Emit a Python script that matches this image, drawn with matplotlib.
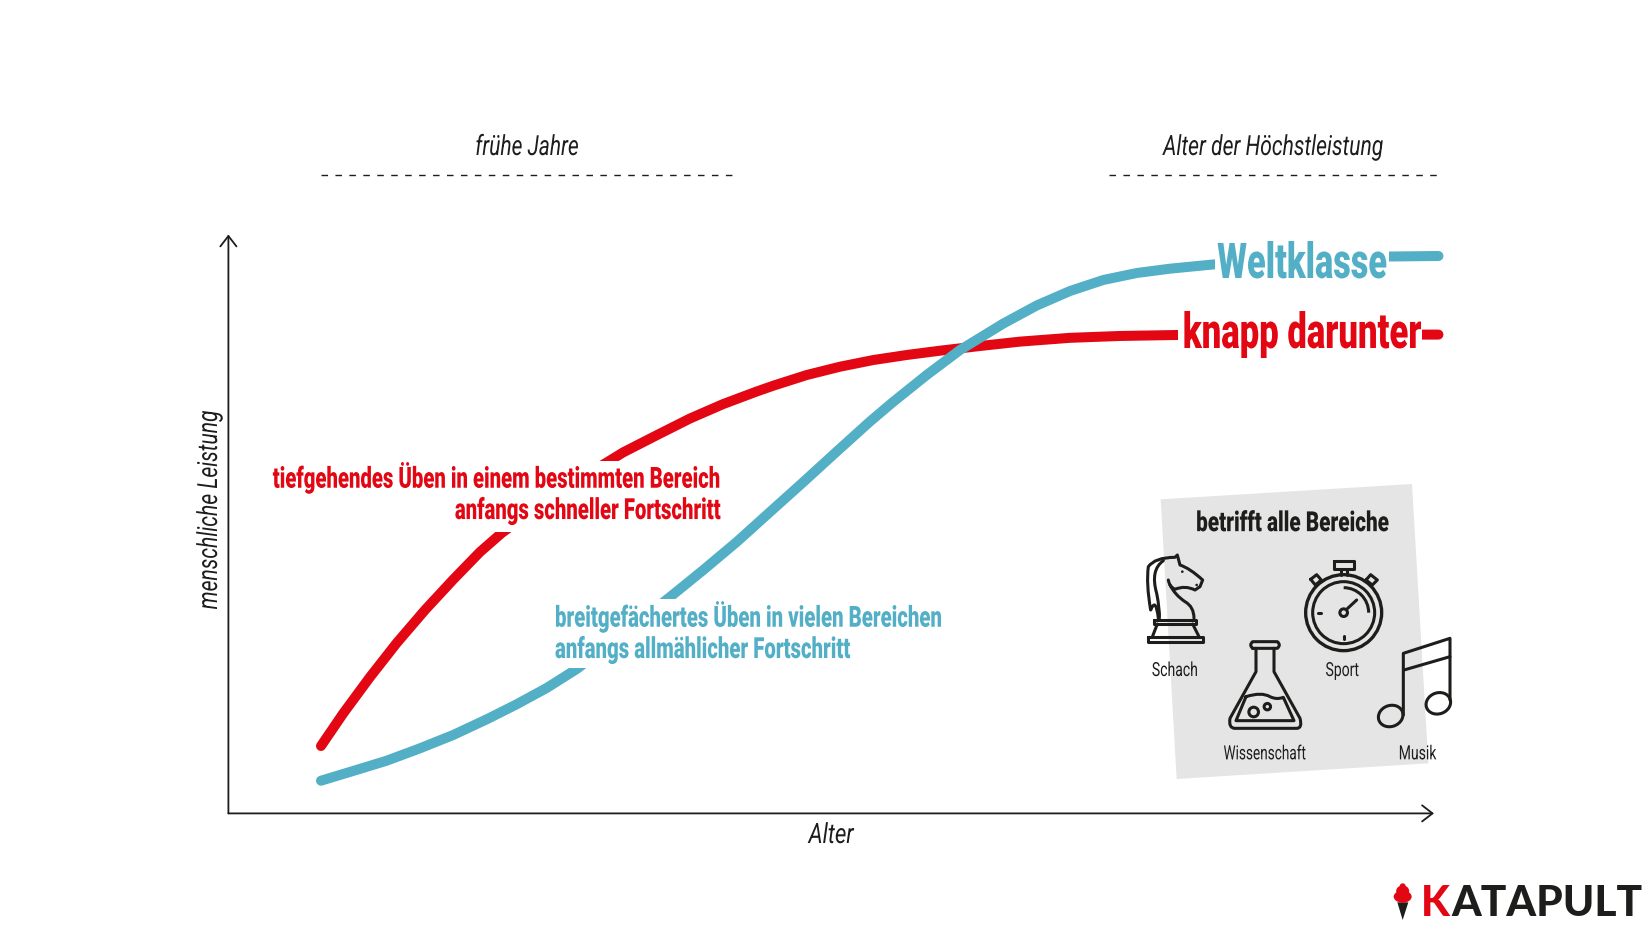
import matplotlib
matplotlib.use("Agg")
import matplotlib.pyplot as plt
from matplotlib.patches import Polygon, Circle, Ellipse, Arc, Rectangle, PathPatch
from matplotlib.patheffects import AbstractPathEffect
from matplotlib.path import Path
from matplotlib.text import Text
from matplotlib.transforms import Affine2D, Bbox

# curves (alter, leistung on a 0-100 scale)
red_age = [7.68, 9.53, 11.75, 13.96, 16.31, 18.65, 20.87, 22.67, 26.68, 31.38, 32.76, 35.53, 38.29, 41.05,
           43.82, 45.20, 47.97, 50.73, 53.49, 56.26, 59.03, 62.34, 65.66, 69.81, 73.96, 78.66, 88.9, 100.37]
red_perf = [11.69, 17.36, 23.66, 29.55, 35.28, 40.56, 45.34, 48.63, 54.87, 60.86, 62.63, 65.59, 68.49, 71.00,
            73.17, 74.18, 76.03, 77.47, 78.63, 79.50, 80.25, 81.06, 81.82, 82.48, 82.80, 82.97, 83.04, 83.04]
blue_age = [7.68, 10.33, 13.13, 15.89, 18.65, 21.43, 23.91, 26.40, 28.89, 32.73, 36.63, 39.39, 42.16, 44.92,
            47.69, 50.46, 53.22, 55.13, 57.92, 60.68, 62.59, 64.28, 67.05, 69.81, 72.57, 75.34, 78.10, 81.67,
            88.9, 96.34, 100.37]
blue_perf = [5.67, 7.35, 9.14, 11.29, 13.60, 16.32, 18.92, 21.75, 25.04, 31.11, 37.53, 42.21, 47.07, 52.27,
             57.47, 62.76, 67.97, 71.35, 76.03, 80.36, 82.80, 84.96, 88.09, 90.60, 92.51, 93.72, 94.47, 95.20,
             96.24, 96.58, 96.67]

phase_labels = ["frühe Jahre", "Alter der Höchstleistung"]
phase_spans = [(7.68, 41.8), (73.05, 100.5)]
area_labels = ["Schach", "Sport", "Wissenschaft", "Musik"]

RED = "#e30613"
BLUE = "#52afc6"
DARK = "#1d1d1b"
GREY = "#e5e5e5"

W, H = 1650, 930
fig = plt.figure(figsize=(W / 100, H / 100), dpi=100)

# chart axes, scale 0-100 both ways
left, right, bottom, top = 228.4, 1434.0, 813.4, 236.8
ax = fig.add_axes([left / W, 1 - bottom / H, (right - left) / W, (bottom - top) / H])
ax.set_xlim(0, 100)
ax.set_ylim(0, 100)
ax.axis("off")
ax.plot(red_age, red_perf, color=RED, lw=7.2, solid_capstyle="round", solid_joinstyle="round", clip_on=False)
ax.plot(blue_age, blue_perf, color=BLUE, lw=7.2, solid_capstyle="round", solid_joinstyle="round", clip_on=False)

arrow = dict(arrowstyle="->,head_length=0.75,head_width=0.58", color=DARK, lw=1.3, shrinkA=0, shrinkB=0)
ax.annotate("", xy=(100, 0), xytext=(0, 0), arrowprops=arrow, annotation_clip=False)
ax.annotate("", xy=(0, 100.4), xytext=(0, 0), arrowprops=arrow, annotation_clip=False)

for span in phase_spans:
    ax.plot(span, [110.8, 110.8], color=DARK, lw=1, dashes=(4.7, 5.34), clip_on=False)

# everything else sits on a pixel overlay
ov = fig.add_axes([0, 0, 1, 1], facecolor="none")
ov.set_xlim(0, W)
ov.set_ylim(H, 0)
ov.axis("off")


# no condensed font is installed, so squeeze real text along its baseline
class Squeeze(AbstractPathEffect):
    def __init__(self, text, sx):
        super().__init__()
        self.text = text
        self.sx = sx

    def draw_path(self, renderer, gc, tpath, affine, rgbFace=None):
        x0, y0 = self.text.get_transform().transform(self.text.get_position())
        sx, sy = (1, self.sx) if self.text.get_rotation() == 90 else (self.sx, 1)
        squeeze = Affine2D().translate(-x0, -y0).scale(sx, sy).translate(x0, y0)
        renderer.draw_path(gc, tpath, affine + squeeze, rgbFace)


class NarrowText(Text):
    def __init__(self, x, y, s, sx=0.7, **kw):
        super().__init__(x, y, s, **kw)
        self.sx = sx
        self.set_path_effects([Squeeze(self, sx)])

    def get_window_extent(self, renderer=None, dpi=None):
        bb = super().get_window_extent(renderer, dpi)
        x0, y0 = self.get_transform().transform(self.get_position())
        sx, sy = (1, self.sx) if self.get_rotation() == 90 else (self.sx, 1)
        return Bbox([[x0 + (bb.x0 - x0) * sx, y0 + (bb.y0 - y0) * sy],
                     [x0 + (bb.x1 - x0) * sx, y0 + (bb.y1 - y0) * sy]])


def txt(x, y, s, size, sx=0.7, color=DARK, weight="normal", style="normal", ha="center", **kw):
    t = NarrowText(x, y, s, sx=sx, fontsize=size, color=color, weight=weight, style=style,
                   ha=ha, va="center", family="Roboto", zorder=5, **kw)
    ov.add_artist(t)
    return t


# white gaps where the labels cut the curves
for x0, y0, x1, y1 in [(270, 461, 725, 532), (550, 599, 945, 668), (1215, 235, 1389, 290), (1178, 305, 1422, 362)]:
    ov.add_patch(Rectangle((x0, y0), x1 - x0, y1 - y0, fc="white", ec="none", zorder=1))

txt(527, 148, phase_labels[0], 20, sx=0.755, style="italic")
txt(1273, 148, phase_labels[1], 20, sx=0.76, style="italic")
txt(210, 510, "menschliche Leistung", 20, sx=0.76, style="italic", rotation=90)
txt(831, 836, "Alter", 20, sx=0.8, style="italic")

txt(1302, 265, "Weltklasse", 35.5, sx=0.695, color=BLUE, weight=900)
txt(1302, 335, "knapp darunter", 35.5, sx=0.703, color=RED, weight=900)
txt(720, 493, "tiefgehendes Üben in einem bestimmten Bereich\nanfangs schneller Fortschritt", 21, sx=0.696,
    color=RED, weight=900, ha="right", multialignment="right", linespacing=1.15)
txt(555, 632, "breitgefächertes Üben in vielen Bereichen\nanfangs allmählicher Fortschritt", 21, sx=0.698,
    color=BLUE, weight=900, ha="left", multialignment="left", linespacing=1.15)


# panel coordinates taken from a 3x crop at (1120, 470)
def z(x, y):
    return 1120 + x / 3, 470 + y / 3


def stroke(points, codes=None, lw=2.2):
    pts = [z(*p) for p in points]
    if codes is None:
        codes = [Path.MOVETO] + [Path.LINETO] * (len(pts) - 1)
    ov.add_patch(PathPatch(Path(pts, codes), fc="none", ec=DARK, lw=lw, capstyle="round", joinstyle="round", zorder=3))


ov.add_patch(Polygon([z(122, 88), z(876, 42), z(925, 880), z(170, 927)], closed=True, fc=GREY, ec="none", zorder=2))
txt(*z(518, 161), "betrifft alle Bereiche", 20, sx=0.745, weight=900)
txt(*z(165, 603), area_labels[0], 14, sx=0.72)
txt(*z(667, 603), area_labels[1], 14, sx=0.72)
txt(*z(435, 853), area_labels[2], 14, sx=0.7)
txt(*z(893, 853), area_labels[3], 14, sx=0.72)

C3 = Path.CURVE3
L = Path.LINETO
M = Path.MOVETO

# knight
stroke([(115, 445), (108, 380), (92, 420), (78, 340), (85, 290), (105, 262), (165, 262), (172, 255), (180, 285),
        (210, 295), (248, 330), (240, 350), (225, 360), (195, 345), (165, 358), (148, 350), (145, 330)],
       [M, C3, C3, C3, C3, C3, C3, L, L, C3, C3, L, L, C3, C3, C3, C3])
stroke([(150, 345), (165, 375), (195, 395), (222, 410), (222, 445)], [M, C3, C3, C3, C3])
stroke([(130, 272), (90, 300), (110, 370), (120, 420), (118, 445)], [M, C3, C3, C3, C3])
stroke([(102, 449), (228, 449), (228, 462), (102, 462), (102, 449)])
stroke([(112, 462), (98, 498)])
stroke([(218, 462), (236, 498)])
stroke([(85, 500), (248, 500), (248, 515), (85, 515), (85, 500)])
ov.add_patch(Circle(z(187, 305), 1.3, fc=DARK, ec="none", zorder=3))
ov.add_patch(Circle(z(230, 345), 1.3, fc=DARK, ec="none", zorder=3))

# stopwatch
cx, cy = z(671, 428)
ov.add_patch(Circle((cx, cy), 38, fc="none", ec=DARK, lw=2.4, zorder=3))
ov.add_patch(Circle((cx, cy), 31, fc="none", ec=DARK, lw=2.2, zorder=3))
ov.add_patch(Circle((cx, cy), 3.8, fc="none", ec=DARK, lw=2.2, zorder=3))
ov.add_patch(Arc((cx, cy), 50, 50, theta1=-90, theta2=0, ec=DARK, lw=2.2, zorder=3))
stroke([(682, 416), (710, 390)])
stroke([(642, 272), (702, 272), (702, 298), (642, 298), (642, 272)])
stroke([(662, 298), (662, 315)])
stroke([(682, 298), (682, 315)])
stroke([(572, 328), (590, 314), (604, 330), (586, 345), (572, 328)])
stroke([(738, 330), (752, 314), (772, 330), (757, 345), (738, 330)])
stroke([(594, 428), (604, 428)])
stroke([(671, 498), (671, 506)])

# flask
stroke([(408, 535), (408, 605), (330, 745), (325, 775), (345, 775), (530, 775), (548, 775), (540, 745),
        (462, 605), (462, 535)], [M, L, L, C3, C3, L, C3, C3, L, L])
stroke([(398, 535), (472, 535), (484, 525), (472, 515), (398, 515), (386, 525), (398, 535)],
       [M, L, C3, C3, L, C3, C3])
stroke([(378, 680), (425, 665), (450, 680), (470, 690), (490, 682), (522, 752), (348, 752), (378, 680)],
       [M, C3, C3, C3, C3, L, L, L])
ov.add_patch(Circle(z(401, 726), 4.8, fc="none", ec=DARK, lw=2.2, zorder=3))
ov.add_patch(Circle(z(442, 710), 3.2, fc="none", ec=DARK, lw=2.2, zorder=3))

# notes
stroke([(850, 735), (850, 550), (990, 505), (990, 690)])
stroke([(852, 600), (990, 560)])
for px, py in [(812, 738), (955, 700)]:
    ov.add_patch(Ellipse(z(px, py), 25, 21, angle=-20, fc="none", ec=DARK, lw=2.2, zorder=3))


# logo, from a 3x crop at (1380, 870)
def y3(x, y):
    return 1380 + x / 3, 870 + y / 3


ov.add_patch(Polygon([y3(52, 97), y3(85, 97), y3(68, 150)], closed=True, fc=DARK, ec="none"))
ov.add_patch(Ellipse(y3(68, 80), 18, 12, fc=RED, ec="none"))
ov.add_patch(Ellipse(y3(68, 63), 13, 11, fc=RED, ec="none"))
ov.add_patch(Ellipse(y3(68, 49), 6, 6, fc=RED, ec="none"))
ov.text(1421, 916, "K", fontsize=30, color=RED, weight=900, family="Lato", ha="left", va="baseline")
ov.text(1451, 916, "ATAPULT", fontsize=30.5, color=DARK, weight=900, family="Lato", ha="left", va="baseline")

fig.savefig("out.png", dpi=100)
